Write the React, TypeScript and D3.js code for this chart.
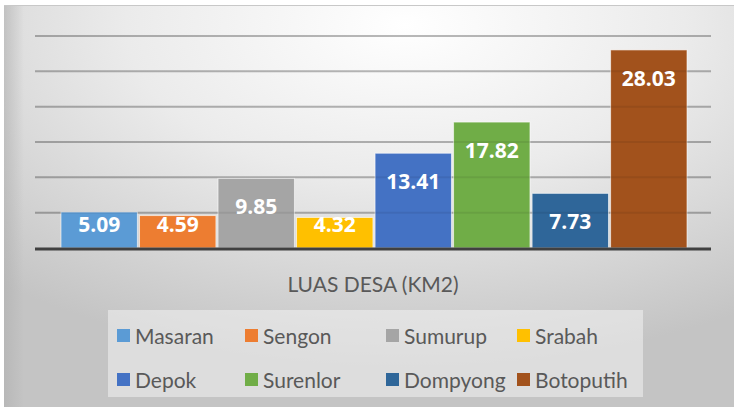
import React from "react";
import * as d3 from "d3";

const villages = ["Masaran", "Sengon", "Sumurup", "Srabah", "Depok", "Surenlor", "Dompyong", "Botoputih"];
const areas = [5.09, 4.59, 9.85, 4.32, 13.41, 17.82, 7.73, 28.03];
const colors = ["#5B9BD5", "#ED7D31", "#A5A5A5", "#FFC000", "#4472C4", "#70AD47", "#2F6699", "#A2521C"];
const yTicks = [0, 5, 10, 15, 20, 25, 30];
const categoryLabel = "LUAS DESA (KM2)";

const W = 736;
const H = 411;

export default function App() {
  const x = d3.scaleBand<string>().domain(villages).range([61, 687]).paddingInner(0.027).paddingOuter(0);
  const y = d3.scaleLinear().domain([0, 30]).range([248, 36]);
  const base = y(0);

  const legendX = d3.scaleOrdinal<string, number>().domain(["0", "1", "2", "3"]).range([117, 245, 386, 517]);
  const legendRowY = [335, 379];

  const font = "Lato, 'Open Sans', sans-serif";

  return (
    <div style={{ position: "absolute", left: 0, top: 0 }}>
      <svg width={W} height={H} style={{ display: "block" }}>
        <defs>
          <radialGradient id="bg" cx="0.55" cy="0.05" r="0.85" fx="0.55" fy="0.05">
            <stop offset="0" stopColor="#ffffff" />
            <stop offset="0.45" stopColor="#ebebeb" />
            <stop offset="1" stopColor="#c4c4c4" />
          </radialGradient>
          <linearGradient id="leftEdge" x1="0" x2="1" y1="0" y2="0">
            <stop offset="0" stopColor="#b0b0b0" stopOpacity="0.6" />
            <stop offset="1" stopColor="#b0b0b0" stopOpacity="0" />
          </linearGradient>
        </defs>
        <rect x={0} y={0} width={W} height={H} fill="#ffffff" />
        <rect x={4} y={5} width={730} height={402} fill="url(#bg)" />
        <rect x={4} y={5} width={20} height={402} fill="url(#leftEdge)" />
        <line x1={4} x2={734} y1={5.5} y2={5.5} stroke="#c8c8c8" strokeWidth={1} />

        {yTicks.filter((t) => t > 0).map((t) => (
          <line key={t} x1={35} x2={711} y1={y(t)} y2={y(t)} stroke="#000" strokeOpacity={0.22} strokeWidth={2} />
        ))}

        {villages.map((v, i) => (
          <rect
            key={v}
            x={x(v)}
            y={y(areas[i])}
            width={x.bandwidth()}
            height={base - y(areas[i])}
            fill={colors[i]}
            stroke="#ffffff"
            strokeOpacity={0.6}
            strokeWidth={1}
          />
        ))}

        {yTicks.filter((t) => t > 0).map((t) => (
          <line key={"o" + t} x1={35} x2={711} y1={y(t)} y2={y(t)} stroke="#000" strokeOpacity={0.07} strokeWidth={2} />
        ))}

        <line x1={35} x2={711} y1={base + 1} y2={base + 1} stroke="#404040" strokeWidth={3} />

        {villages.map((v, i) => {
          const cy = Math.min(y(areas[i]) + 28, base - 24);
          return (
            <text
              key={"l" + v}
              x={(x(v) as number) + x.bandwidth() / 2}
              y={cy}
              textAnchor="middle"
              dominantBaseline="central"
              fill="#ffffff"
              fontFamily="'Open Sans', sans-serif"
              fontWeight="bold"
              fontSize={21}
            >
              {areas[i].toFixed(2)}
            </text>
          );
        })}

        <text x={373} y={283} textAnchor="middle" dominantBaseline="central" fill="#595959" fontFamily={font} fontSize={21}>
          {categoryLabel}
        </text>

        <rect x={108} y={310} width={535} height={87} fill="#f2f2f2" fillOpacity={0.55} />

        {villages.map((v, i) => {
          const lx = legendX(String(i % 4));
          const ly = legendRowY[Math.floor(i / 4)];
          return (
            <g key={"g" + v}>
              <rect x={lx} y={ly - 6} width={13} height={13} fill={colors[i]} />
              <text x={lx + 18} y={ly} dominantBaseline="central" fill="#595959" fontFamily={font} fontSize={21}>
                {v}
              </text>
            </g>
          );
        })}
      </svg>
    </div>
  );
}
